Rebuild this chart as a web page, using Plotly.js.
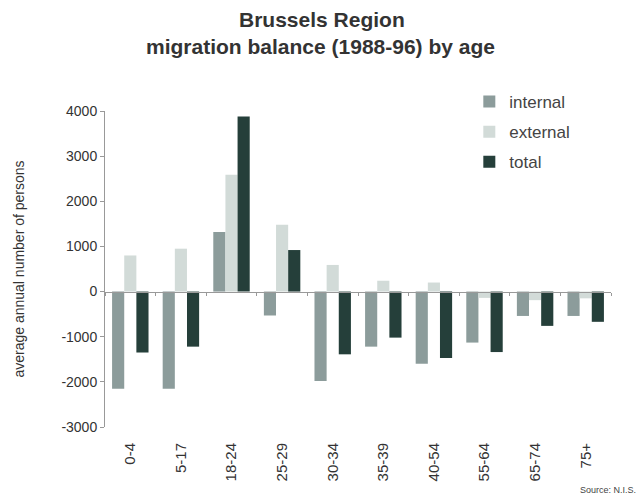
<!DOCTYPE html>
<html>
<head>
<meta charset="utf-8">
<script src="https://cdn.plot.ly/plotly-3.0.1.min.js"></script>
<style>html,body{margin:0;padding:0;background:#fff;}#chart{width:641px;height:499px;}</style>
</head>
<body>
<div id="chart"></div>
<script>
const ageGroups = ["0-4", "5-17", "18-24", "25-29", "30-34", "35-39", "40-54", "55-64", "65-74", "75+"];
const internalValues = [-2150, -2150, 1320, -530, -1980, -1220, -1600, -1130, -540, -540];
const externalValues = [800, 950, 2590, 1480, 590, 240, 200, -140, -190, -150];
const totalValues = [-1350, -1220, 3880, 920, -1390, -1020, -1470, -1340, -760, -670];
const seriesNames = ["internal", "external", "total"];
const yTicks = [-3000, -2000, -1000, 0, 1000, 2000, 3000, 4000];
const titleLines = ["Brussels Region", "migration balance (1988-96) by age"];

const colors = ["#8c9c9b", "#d2dbd8", "#253f3a"];
const allValues = [internalValues, externalValues, totalValues];

const traces = allValues.map((vals, i) => ({
  type: "bar",
  x: ageGroups,
  y: vals,
  name: seriesNames[i],
  legendgroup: "g" + i,
  marker: { color: colors[i], line: { width: 0 } }
}));

// invisible helper trace so the zero-line x axis (xaxis2) draws
traces.push({
  type: "bar", x: ageGroups, y: ageGroups.map(() => 0), xaxis: "x2", yaxis: "y",
  showlegend: false, hoverinfo: "skip", marker: { color: "rgba(0,0,0,0)" }
});

const plotTop = 111, plotBottom = 427, plotH = plotBottom - plotTop;
const py = p => (plotBottom - p) / plotH;

const layout = {
  width: 641,
  height: 499,
  paper_bgcolor: "#ffffff",
  plot_bgcolor: "#ffffff",
  font: { family: "Liberation Sans, Arial, sans-serif", color: "#333333" },
  margin: { l: 105, r: 30, t: plotTop, b: 499 - plotBottom },
  barmode: "group",
  bargap: 0.28,
  bargroupgap: 0,
  showlegend: true,
  legend: {
    x: 0.72, y: py(84), xanchor: "left", yanchor: "top",
    font: { size: 17, color: "#444444" },
    traceorder: "grouped",
    tracegroupgap: 5,
    itemwidth: 30,
    bgcolor: "rgba(0,0,0,0)"
  },
  xaxis: {
    type: "category",
    showline: false,
    showgrid: false,
    zeroline: false,
    ticks: "",
    tickangle: -90,
    tickfont: { size: 15, color: "#333333" },
    ticklabelstandoff: 12
  },
  xaxis2: {
    matches: "x",
    overlaying: "x",
    anchor: "free",
    position: 3000 / 7000,
    showline: true,
    linecolor: "#999999",
    linewidth: 1,
    showgrid: false,
    zeroline: false,
    ticks: "outside",
    tickson: "boundaries",
    ticklen: 3,
    tickcolor: "#999999",
    showticklabels: false
  },
  yaxis: {
    range: [-3000, 4000],
    tickvals: yTicks,
    ticktext: yTicks.map(String),
    showgrid: false,
    zeroline: false,
    showline: true,
    linecolor: "#999999",
    linewidth: 1,
    ticks: "outside",
    ticklen: 4,
    tickcolor: "#999999",
    tickfont: { size: 14, color: "#333333" },
    title: { text: "average annual number of persons", font: { size: 14, color: "#333333" }, standoff: 33 }
  },
  annotations: [
    {
      text: "<b>" + titleLines[0] + "</b>",
      xref: "paper", yref: "paper", x: (322 - 105) / 506, y: py(19),
      xanchor: "center", yanchor: "middle", showarrow: false,
      font: { size: 21, color: "#333333" }
    },
    {
      text: "<b>" + titleLines[1] + "</b>",
      xref: "paper", yref: "paper", x: (320 - 105) / 506, y: py(46),
      xanchor: "center", yanchor: "middle", showarrow: false,
      font: { size: 21, color: "#333333" }
    },
    {
      text: "Source: N.I.S.",
      xref: "paper", yref: "paper",
      x: (638 - 105) / 506, y: py(490), xanchor: "right", yanchor: "middle",
      showarrow: false,
      font: { size: 9, color: "#444444" }
    }
  ]
};

Plotly.newPlot("chart", traces, layout, { displayModeBar: false, staticPlot: true });
</script>
</body>
</html>
